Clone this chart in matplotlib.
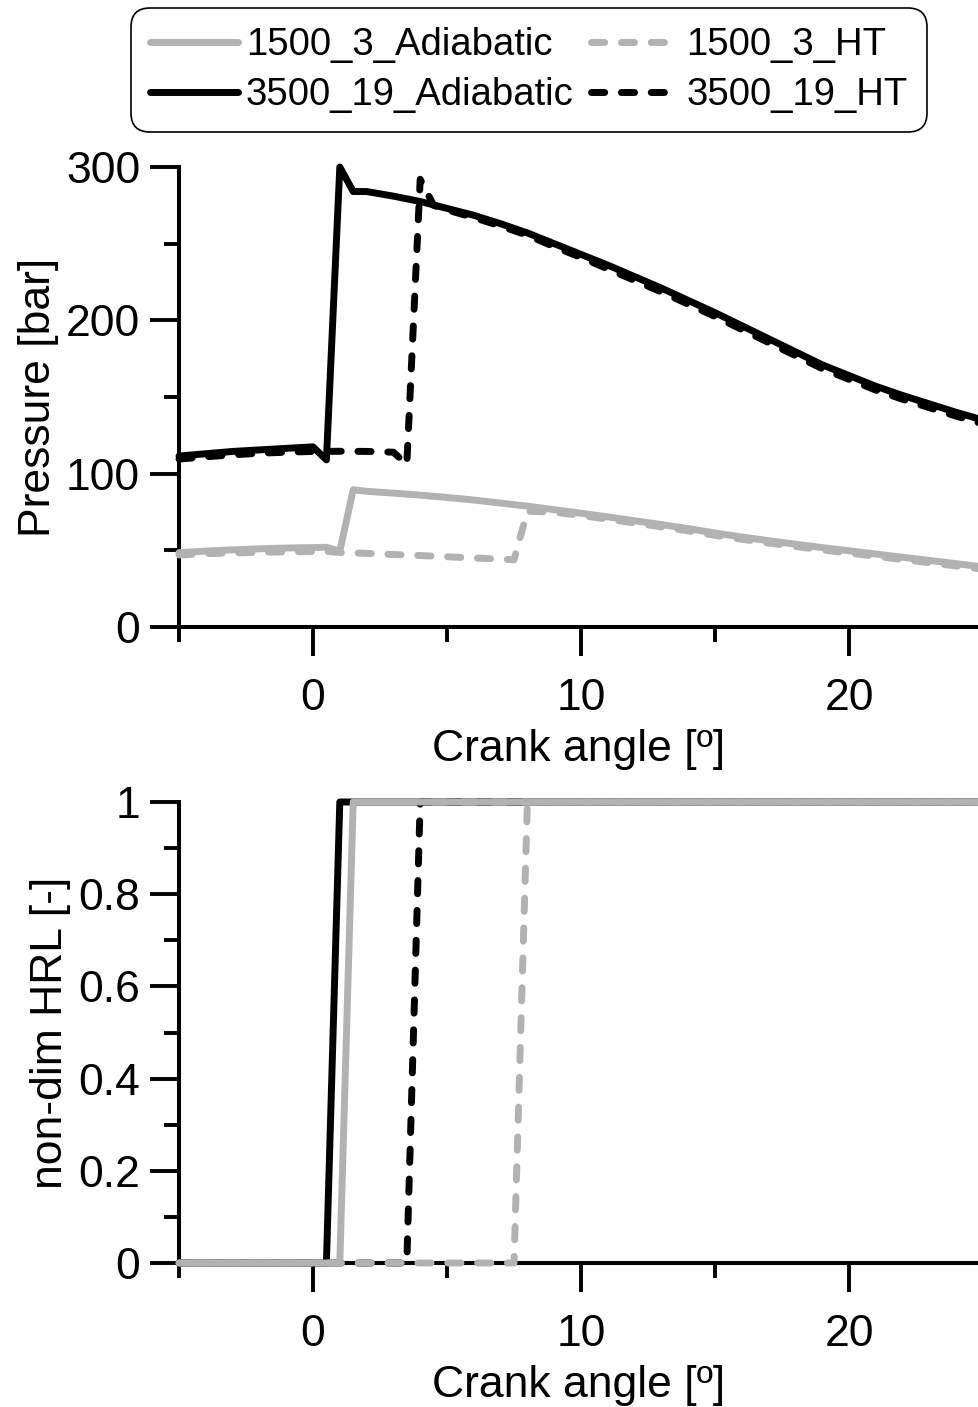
import matplotlib
matplotlib.use("Agg")
import matplotlib.pyplot as plt

plt.rcParams['font.family'] = ['Liberation Sans', 'DejaVu Sans']

# ---- cylinder pressure [bar] vs crank angle [deg] ----
p_ad_3500_x = [-5, -4, -3, -2, -1, 0, 0.5, 1.0, 1.5, 2, 3, 4, 5, 6, 7, 8, 9, 10, 11, 12, 13,
               14, 15, 16, 17, 18, 19, 20, 21, 22, 23, 24, 25]
p_ad_3500_y = [111.5, 113, 114.5, 115.5, 116.5, 117.5, 109, 300, 284, 284, 281, 277.5, 273,
               268.5, 263, 257, 250, 243, 236, 228.5, 221, 213, 205, 196.5, 188, 179.5, 171,
               164, 157, 151, 145.5, 140, 135]

p_ht_3500_x = [-5, -4, -3, -2, -1, 0, 1, 2, 3, 3.5, 4.0, 4.5, 5, 6, 7, 8, 9, 10, 11, 12, 13,
               14, 15, 16, 17, 18, 19, 20, 21, 22, 23, 24, 25]
p_ht_3500_y = [109.5, 111, 112.3, 113.3, 114, 114.5, 114.6, 114.5, 114, 106, 292, 275, 272,
               267, 261.5, 255.5, 248, 241, 233.5, 226, 218.5, 210.5, 202.5, 194, 185.5, 177,
               168.5, 161.5, 154.5, 148.5, 143, 137.5, 132.5]

p_ad_1500_x = [-5, -4, -3, -2, -1, 0, 0.5, 1.0, 1.5, 2, 3, 4, 5, 6, 7, 8, 9, 10, 11, 12, 13,
               14, 15, 16, 17, 18, 19, 20, 21, 22, 23, 24, 25]
p_ad_1500_y = [48.5, 49.5, 50.3, 51, 51.5, 51.8, 52, 49.5, 89.5, 88.5, 87.3, 86, 84.5, 82.8,
               80.8, 78.8, 76.5, 74.2, 71.8, 69.3, 66.8, 64.2, 61.3, 58.7, 56.3, 54, 51.8,
               49.7, 47.6, 45.5, 43.4, 41.3, 39.2]

p_ht_1500_x = [-5, -4, -3, -2, -1, 0, 0.5, 1, 2, 3, 4, 5, 6, 7, 7.5, 8.0, 9, 10, 11, 12, 13,
               14, 15, 16, 17, 18, 19, 20, 21, 22, 23, 24, 25]
p_ht_1500_y = [47, 47.8, 48.3, 48.7, 49, 49.2, 49.3, 48.6, 48, 47.3, 46.6, 45.8, 45, 44.3,
               43.8, 75.5, 74.9, 72.7, 70.3, 67.8, 65.3, 62.7, 59.8, 57.2, 54.8, 52.5, 50.3,
               48.2, 46.1, 44, 41.9, 39.8, 37.7]

# ---- non-dimensional heat release law [-] ----
hrl_ad_3500_x = [-5, 0.5, 1.0, 25]
hrl_ht_3500_x = [-5, 3.5, 4.0, 25]
hrl_ad_1500_x = [-5, 1.0, 1.5, 25]
hrl_ht_1500_x = [-5, 7.5, 8.0, 25]
hrl_y = [0, 0, 1, 1]

labels = ['1500_3_Adiabatic', '1500_3_HT', '3500_19_Adiabatic', '3500_19_HT']

GRAY = '#b1b3b2'
BLACK = '#000000'
LW = 5.0
DASH = (1.9, 2.4)

solid_kw = dict(lw=LW, solid_capstyle='round', solid_joinstyle='round', clip_on=False, zorder=3)
dash_kw = dict(lw=LW, dashes=DASH, dash_capstyle='round', dash_joinstyle='round',
               clip_on=False, zorder=3)

W, H = 979, 1407
fig = plt.figure(figsize=(W / 100, H / 100), dpi=100)


def box(left, top, right, bottom):
    return [left / W, 1 - bottom / H, (right - left) / W, (bottom - top) / H]


ax1 = fig.add_axes(box(179, 167, 979, 627))
ax2 = fig.add_axes(box(179, 802, 979, 1263))

# pressure traces
h_ad3500, = ax1.plot(p_ad_3500_x, p_ad_3500_y, color=BLACK, **solid_kw)
h_ht3500, = ax1.plot(p_ht_3500_x, p_ht_3500_y, color=BLACK, **dash_kw)
h_ad1500, = ax1.plot(p_ad_1500_x, p_ad_1500_y, color=GRAY, **solid_kw)
h_ht1500, = ax1.plot(p_ht_1500_x, p_ht_1500_y, color=GRAY, **dash_kw)

# heat release laws
ax2.plot(hrl_ad_3500_x, hrl_y, color=BLACK, **solid_kw)
ax2.plot(hrl_ht_3500_x, hrl_y, color=BLACK, **dash_kw)
ax2.plot(hrl_ad_1500_x, hrl_y, color=GRAY, **solid_kw)
ax2.plot(hrl_ht_1500_x, hrl_y, color=GRAY, **dash_kw)

FS = 32
for ax in (ax1, ax2):
    ax.set_xlim(-5, 24.85)
    ax.set_xticks([0, 10, 20])
    ax.set_xticks([-5, 5, 15], minor=True)
    ax.set_xticklabels(['0', '10', '20'])
    ax.spines['top'].set_visible(False)
    ax.spines['right'].set_visible(False)
    for s in ('left', 'bottom'):
        ax.spines[s].set_linewidth(2.9)
    ax.tick_params(which='major', direction='out', length=21, width=2.8, labelsize=FS)
    ax.tick_params(which='minor', direction='out', length=10.5, width=2.8)
    ax.tick_params(axis='x', which='major', pad=16)
    ax.tick_params(axis='y', which='major', pad=7)
    ax.set_xlabel('Crank angle [º]', fontsize=FS, labelpad=7)
    ax.patch.set_visible(False)

ax1.set_ylim(0, 300)
ax1.set_yticks([0, 100, 200, 300])
ax1.set_yticks([50, 150, 250], minor=True)
ax1.set_ylabel('Pressure [bar]', fontsize=FS, labelpad=5)

ax2.set_ylim(0, 1)
ax2.set_yticks([0, 0.2, 0.4, 0.6, 0.8, 1.0])
ax2.set_yticklabels(['0', '0.2', '0.4', '0.6', '0.8', '1'])
ax2.set_yticks([0.1, 0.3, 0.5, 0.7, 0.9], minor=True)
ax2.set_ylabel('non-dim HRL [-]', fontsize=FS, labelpad=5)

leg = fig.legend([h_ad1500, h_ad3500, h_ht1500, h_ht3500],
                 [labels[0], labels[2], labels[1], labels[3]],
                 ncol=2, loc='upper center', bbox_to_anchor=(529 / W, 1 - 8 / H),
                 fontsize=27.5, frameon=True, fancybox=True, framealpha=1,
                 edgecolor='black', handlelength=2.3, handletextpad=0.2,
                 columnspacing=0.45, labelspacing=0.37, borderpad=0.5,
                 borderaxespad=0)
leg.get_frame().set_linewidth(1.2)
leg.get_frame().set_boxstyle('round,pad=0,rounding_size=0.5')

fig.savefig('out.png', dpi=100)
